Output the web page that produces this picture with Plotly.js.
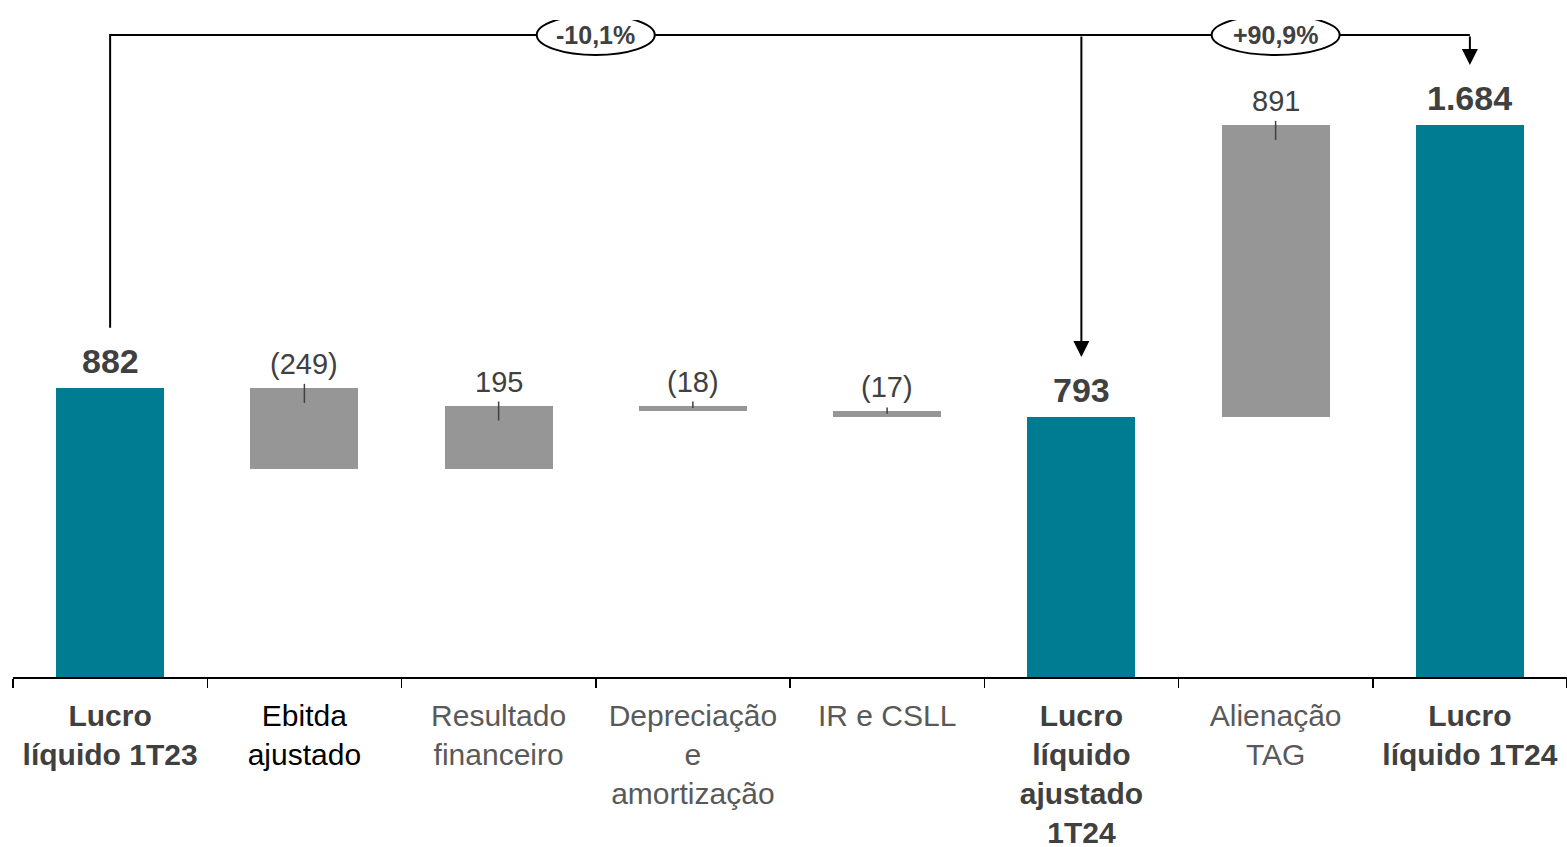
<!DOCTYPE html>
<html>
<head>
<meta charset="utf-8">
<script src="https://cdn.plot.ly/plotly-3.0.1.min.js"></script>
<style>html,body{margin:0;padding:0;background:#fff;}#chart{width:1567px;height:847px;}</style>
</head>
<body>
<div id="chart"></div>
<script>
// ---- data ----
const categories = ['Lucro líquido 1T23','Ebitda ajustado','Resultado financeiro','Depreciação e amortização','IR e CSLL','Lucro líquido ajustado 1T24','Alienação TAG','Lucro líquido 1T24'];
const measures = ['absolute','relative','relative','relative','relative','total','relative','total'];
const values = [882, -249, 195, -18, -17, 793, 891, 1684];
const valueLabels = ['882','(249)','195','(18)','(17)','793','891','1.684'];
const tickLabels = [
  '<span style="color:#404040"><b>Lucro<br>líquido 1T23</b></span>',
  '<span style="color:#000000">Ebitda<br>ajustado</span>',
  'Resultado<br>financeiro',
  'Depreciação<br>e<br>amortização',
  'IR e CSLL',
  '<span style="color:#404040"><b>Lucro<br>líquido<br>ajustado<br>1T24</b></span>',
  'Alienação<br>TAG',
  '<span style="color:#404040"><b>Lucro<br>líquido 1T24</b></span>'
];
const changeLabels = ['-10,1%', '+90,9%'];
const changeFrom = [0, 5];
const changeTo = [5, 7];

// ---- style ----
const TEAL = '#007C92';
const GRAY = '#969696';
const TEXT = '#404040';
const MARGIN = {l: 13, r: 0, t: 20, b: 170};
const H = 847, W = 1567;
const plotH = H - MARGIN.t - MARGIN.b;
const yMax = 2004;
const pxU = plotH / yMax;
const ellipseW = [118, 128];
const ellipseH = 40;

// ---- compute bars ----
const bases = [], heights = [], colors = [], tops = [];
let run = 0;
values.forEach((v, i) => {
  if (measures[i] === 'relative') {
    bases.push(run); heights.push(v); colors.push(GRAY);
    tops.push(Math.max(run, run + v));
    run += v;
  } else {
    bases.push(0); heights.push(v); colors.push(TEAL);
    tops.push(v); run = v;
  }
});

const trace = {
  type: 'bar',
  x: categories,
  y: heights,
  base: bases,
  width: 0.556,
  marker: {color: colors, line: {width: 0}},
  hoverinfo: 'skip'
};

const annotations = [];
const shapes = [];

values.forEach((v, i) => {
  const isTotal = measures[i] !== 'relative';
  annotations.push({
    x: i, y: tops[i], xref: 'x', yref: 'y',
    text: isTotal ? '<b>' + valueLabels[i] + '</b>' : valueLabels[i],
    showarrow: false, yanchor: 'middle',
    yshift: isTotal ? 27 : 24,
    font: {family: 'Liberation Sans, Arial, sans-serif', size: isTotal ? 34 : 29, color: TEXT}
  });
  if (!isTotal) {
    const hpx = Math.abs(v) * pxU;
    shapes.push({
      type: 'line', xref: 'x', yref: 'y', ysizemode: 'pixel',
      yanchor: tops[i], x0: i, x1: i, y0: 4, y1: -Math.min(15, hpx * 0.4),
      line: {color: TEXT, width: 1.5}
    });
  }
});

// bracket + change labels
const topY = yMax - 15 / pxU;
const offU = 60 / pxU;
shapes.push({
  type: 'path', xref: 'x', yref: 'y',
  path: `M ${changeFrom[0]} ${values[changeFrom[0]] + offU} L ${changeFrom[0]} ${topY} L ${changeTo[1]} ${topY}`,
  line: {color: '#000000', width: 2}
});
changeLabels.forEach((lab, k) => {
  const tgt = changeTo[k];
  annotations.push({
    x: tgt, y: tops[tgt] + offU, xref: 'x', yref: 'y',
    ax: tgt, ay: topY, axref: 'x', ayref: 'y',
    showarrow: true, arrowhead: 2, arrowsize: 1.6, arrowwidth: 2, arrowcolor: '#000000',
    standoff: 0, startstandoff: 0, text: ''
  });
  const cx = (changeFrom[k] + changeTo[k]) / 2;
  shapes.push({
    type: 'circle', xref: 'x', yref: 'y', xsizemode: 'pixel', ysizemode: 'pixel',
    xanchor: cx, yanchor: topY,
    x0: -ellipseW[k] / 2, x1: ellipseW[k] / 2, y0: -ellipseH / 2, y1: ellipseH / 2,
    fillcolor: '#ffffff', line: {color: '#000000', width: 2}
  });
  annotations.push({
    x: cx, y: topY, xref: 'x', yref: 'y', showarrow: false,
    text: '<b>' + lab + '</b>',
    font: {family: 'Liberation Sans, Arial, sans-serif', size: 25, color: TEXT}
  });
});

const layout = {
  width: W, height: H,
  margin: MARGIN,
  paper_bgcolor: '#ffffff', plot_bgcolor: '#ffffff',
  showlegend: false,
  bargap: 0,
  font: {family: 'Liberation Sans, Arial, sans-serif', color: '#595959'},
  xaxis: {
    type: 'category',
    range: [-0.5, 7.5],
    tickvals: categories, ticktext: tickLabels,
    tickson: 'boundaries',
    ticks: 'outside', ticklen: 9, tickwidth: 1.5, tickcolor: '#000000',
    ticklabelstandoff: 11,
    showline: true, linecolor: '#000000', linewidth: 1.5,
    showgrid: false, zeroline: false,
    tickfont: {size: 30, color: '#595959', family: 'Liberation Sans, Arial, sans-serif'},
    fixedrange: true
  },
  yaxis: {
    range: [0, yMax], visible: false, showgrid: false, zeroline: false, fixedrange: true
  },
  shapes: shapes,
  annotations: annotations
};

Plotly.newPlot('chart', [trace], layout, {displayModeBar: false, staticPlot: true});
</script>
</body>
</html>
